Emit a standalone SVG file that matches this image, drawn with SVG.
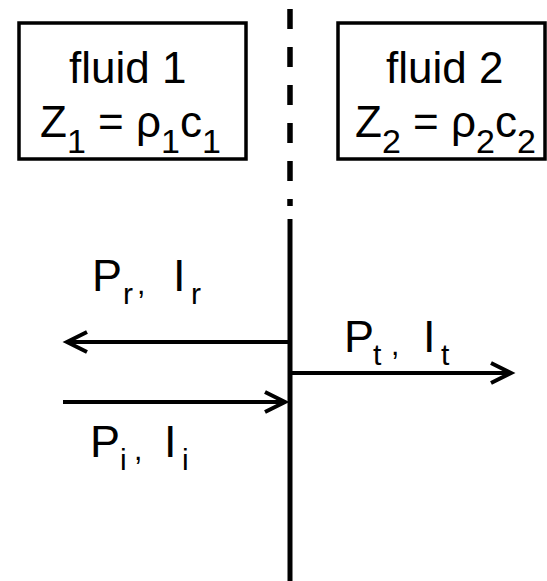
<svg xmlns="http://www.w3.org/2000/svg" width="547" height="581" viewBox="0 0 547 581">
<style>
.box{fill:#fff;stroke:#000;stroke-width:3.5}
.bt{font-family:"Liberation Sans",Arial,sans-serif;font-size:44px;fill:#000}
.sub{font-size:34px}
.lbl{font-family:"Liberation Sans",Arial,sans-serif;font-size:45px;fill:#000}
.ls{font-size:30px}
.wire{stroke:#000;stroke-width:4;fill:none}
</style>
<defs>
<marker id="arr" markerUnits="userSpaceOnUse" markerWidth="30" markerHeight="30" refX="20" refY="10" orient="auto" overflow="visible">
<path d="M0,0 L20,10 L0,20" fill="none" stroke="#000" stroke-width="4"/>
</marker>
</defs>
<rect width="547" height="581" fill="#fff"/>
<g id="interface">
<line x1="290" y1="9" x2="290" y2="206" stroke="#000" stroke-width="5.5" stroke-dasharray="20 18"/>
<line x1="290" y1="219" x2="290" y2="581" stroke="#000" stroke-width="5"/>
</g>
<g id="fluid1">
<rect class="box" x="19" y="23" width="227" height="136"/>
<text class="bt" x="69" y="83">fluid 1</text>
<text class="bt" x="40" y="137">Z<tspan class="sub" dy="16">1</tspan><tspan dy="-16"> = ρ</tspan><tspan class="sub" dy="16">1</tspan><tspan dy="-16">c</tspan><tspan class="sub" dy="16">1</tspan></text>
</g>
<g id="fluid2">
<rect class="box" x="338" y="23" width="207" height="136"/>
<text class="bt" x="386" y="83">fluid 2</text>
<text class="bt" x="355" y="137">Z<tspan class="sub" dy="16">2</tspan><tspan dy="-16"> = ρ</tspan><tspan class="sub" dy="16">2</tspan><tspan dy="-16">c</tspan><tspan class="sub" dy="16">2</tspan></text>
</g>
<g id="connectors">
<line class="wire" x1="289" y1="342" x2="67" y2="342" marker-end="url(#arr)"/>
<line class="wire" x1="63" y1="402" x2="285" y2="402" marker-end="url(#arr)"/>
<line class="wire" x1="292" y1="373" x2="511" y2="373" marker-end="url(#arr)"/>
</g>
<g id="reflected-label">
<text class="lbl" x="92" y="291">P<tspan class="ls" x="123" y="304">r</tspan><tspan class="ls" x="137" y="294">,</tspan><tspan x="173" y="291">I</tspan><tspan class="ls" x="191" y="304">r</tspan></text>
</g>
<g id="incident-label">
<text class="lbl" x="90" y="457">P<tspan class="ls" x="120" y="470">i</tspan><tspan class="ls" x="134" y="460">,</tspan><tspan x="164" y="457">I</tspan><tspan class="ls" x="182" y="470">i</tspan></text>
</g>
<g id="transmitted-label">
<text class="lbl" x="344" y="352">P<tspan class="ls" x="373" y="365">t</tspan><tspan class="ls" x="391" y="355">,</tspan><tspan x="423" y="352">I</tspan><tspan class="ls" x="441" y="365">t</tspan></text>
</g>
</svg>
